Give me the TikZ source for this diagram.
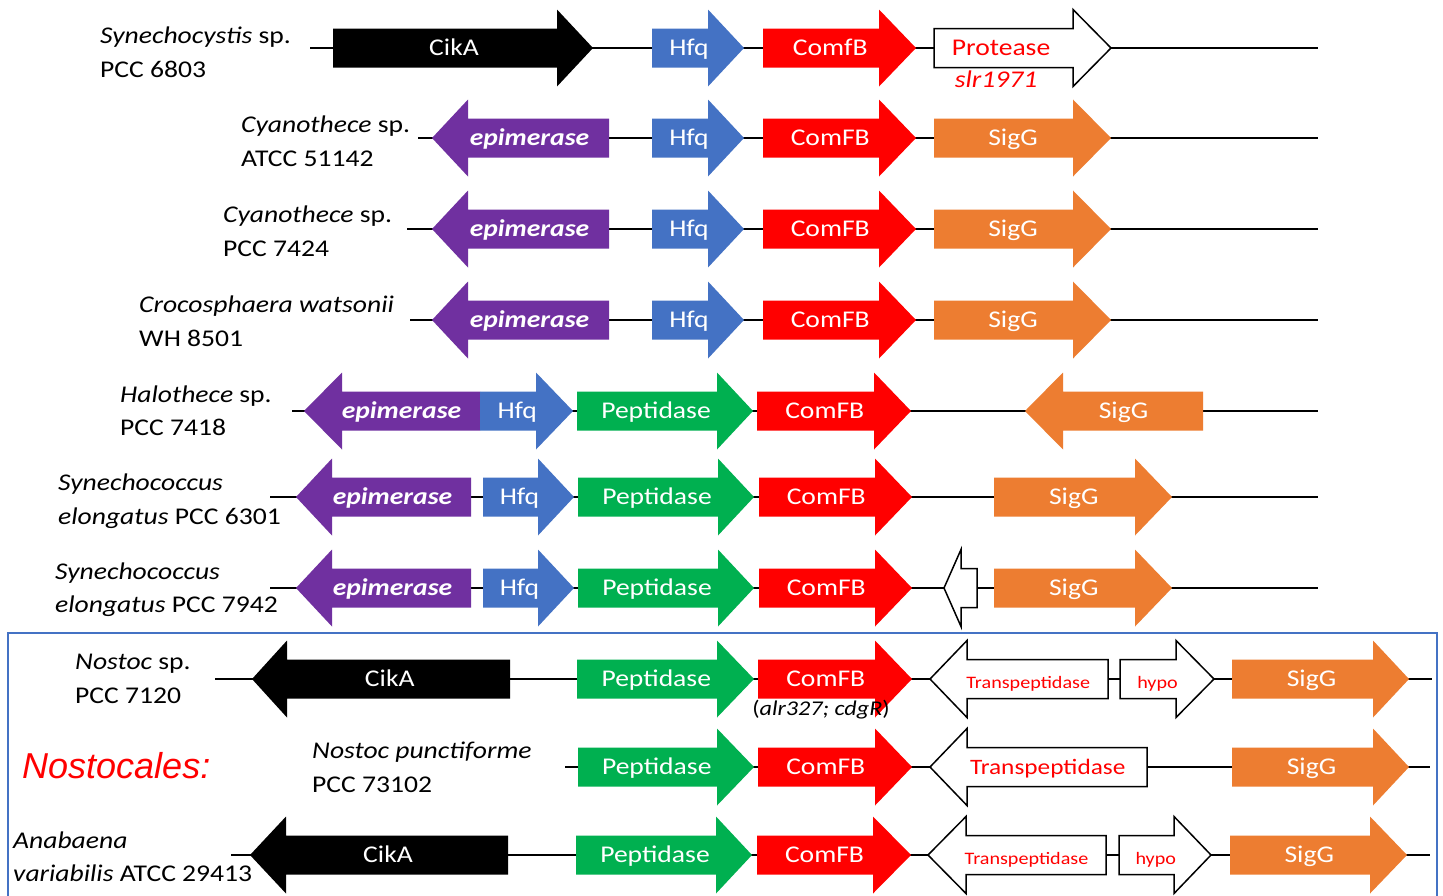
\documentclass[tikz,border=0pt]{standalone}
\usepackage{fontspec}
\setmainfont{Carlito}[FakeStretch=1.15]
\newfontfamily\arialfam{Liberation Sans}
\definecolor{gpurple}{HTML}{7030A0}
\definecolor{gblue}{HTML}{4472C4}
\definecolor{gred}{HTML}{FF0000}
\definecolor{ggreen}{HTML}{00B050}
\definecolor{gorange}{HTML}{ED7D31}
\definecolor{boxblue}{HTML}{4472C4}
\newcommand\gene[8]{%
  \pgfmathsetmacro\gx{(#2+#3)/2+(#4-#3)/4}%
  \path[#6] (#2,#5-19.5) -- (#3,#5-19.5) -- (#3,#5-38.5) -- (#4,#5) -- (#3,#5+38.5) -- (#3,#5+19.5) -- (#2,#5+19.5) -- cycle;
  \node[#7] (#1) at (\gx,#5+7.5) {#8};
}
\tikzset{
  backbone/.style={line width=2.6pt, black},
  blk/.style={fill=black},
  pur/.style={fill=gpurple},
  blu/.style={fill=gblue},
  rd/.style={fill=gred},
  grn/.style={fill=ggreen},
  org/.style={fill=gorange},
  wht/.style={fill=white, draw=black, line width=1.5pt, line join=miter},
  gtxt/.style={font=\fontsize{24}{28}\selectfont, text=white, anchor=base, inner sep=0},
  etxt/.style={gtxt, font=\fontsize{24}{28}\selectfont\bfseries\itshape},
  rtxt/.style={gtxt, text=gred},
  stxt/.style={gtxt, text=gred, font=\fontsize{17.5}{20}\selectfont, yshift=-1.5pt},
  mtxt/.style={gtxt, text=gred, font=\fontsize{22}{26}\selectfont},
  lab/.style={font=\fontsize{24}{30}\selectfont, anchor=base west, inner sep=0},
}
\begin{document}
\begin{tikzpicture}[x=1pt,y=-1pt]
\useasboundingbox (0,0) rectangle (1443,895);
\clip (0,0) rectangle (1443,895);
\fill[white] (0,0) rectangle (1443,895);
% ---------- backbones ----------
\coordinate (s1) at (310,48);  \coordinate (e1) at (1318,48);
\coordinate (s2) at (418,138); \coordinate (e2) at (1318,138);
\coordinate (s3) at (407,229); \coordinate (e3) at (1318,229);
\coordinate (s4) at (410,320); \coordinate (e4) at (1318,320);
\coordinate (s5) at (292,411); \coordinate (e5) at (1318,411);
\coordinate (s6) at (270,497); \coordinate (e6) at (1318,497);
\coordinate (s7) at (270,588); \coordinate (e7) at (1318,588);
\coordinate (s8) at (215,679); \coordinate (e8) at (1432,679);
\coordinate (s9) at (565,767); \coordinate (e9) at (1430,767);
\coordinate (s10) at (231,855); \coordinate (e10) at (1430,855);
\foreach \i in {1,...,10} { \draw[backbone] (s\i) -- (e\i); }
% ---------- row 1 ----------
\gene{r1a}{333}{557}{593}{48}{blk}{gtxt}{CikA}
\gene{r1b}{652}{708}{744}{48}{blu}{gtxt}{Hfq}
\gene{r1c}{763}{879}{916}{48}{rd}{gtxt}{ComfB}
\gene{r1d}{934}{1073}{1111}{48}{wht}{rtxt, xshift=-12pt}{Protease}
\node[lab, anchor=base, text=gred, font=\fontsize{24}{28}\selectfont\itshape] (slr) at (996,87) {slr1971};
% ---------- rows 2-4 ----------
\foreach \r/\yy in {2/138,3/229,4/320} {
  \gene{r\r a}{609}{468}{432}{\yy}{pur}{etxt}{epimerase}
  \gene{r\r b}{652}{708}{744}{\yy}{blu}{gtxt}{Hfq}
  \gene{r\r c}{763}{879}{916}{\yy}{rd}{gtxt}{ComFB}
  \gene{r\r d}{934}{1073}{1111}{\yy}{org}{gtxt}{SigG}
}
% ---------- row 5 ----------
\gene{r5a}{480}{342}{304}{411}{pur}{etxt}{epimerase}
\gene{r5b}{480}{536}{573}{411}{blu}{gtxt}{Hfq}
\gene{r5c}{577}{717}{753}{411}{grn}{gtxt}{Peptidase}
\gene{r5d}{757}{874}{911}{411}{rd}{gtxt}{ComFB}
\gene{r5e}{1203}{1063}{1025}{411}{org}{gtxt}{SigG}
% ---------- rows 6-7 ----------
\foreach \r/\yy in {6/497,7/588} {
  \gene{r\r a}{471}{332}{296}{\yy}{pur}{etxt}{epimerase}
  \gene{r\r b}{483}{538}{574}{\yy}{blu}{gtxt}{Hfq}
  \gene{r\r c}{578}{718}{754}{\yy}{grn}{gtxt}{Peptidase}
  \gene{r\r d}{759}{875}{912}{\yy}{rd}{gtxt}{ComFB}
  \gene{r\r e}{994}{1135}{1172}{\yy}{org}{gtxt}{SigG}
}
\gene{r7f}{977}{961}{944}{588}{wht}{gtxt}{}
% ---------- row 8 ----------
\gene{r8a}{510}{287}{252}{679}{blk}{gtxt}{CikA}
\gene{r8b}{577}{717}{754}{679}{grn}{gtxt}{Peptidase}
\gene{r8c}{758}{875}{912}{679}{rd}{gtxt}{ComFB}
\gene{r8d}{1108}{967}{930}{679}{wht}{stxt}{Transpeptidase}
\gene{r8e}{1120}{1176}{1214}{679}{wht}{stxt}{hypo}
\gene{r8f}{1232}{1373}{1409}{679}{org}{gtxt}{SigG}
\node[lab, anchor=base, font=\fontsize{21}{24}\selectfont] (alr) at (821,715) {(\textit{alr327; cdgR})};
% ---------- row 9 ----------
\gene{r9b}{578}{717}{754}{767}{grn}{gtxt}{Peptidase}
\gene{r9c}{758}{875}{912}{767}{rd}{gtxt}{ComFB}
\gene{r9d}{1147}{967}{930}{767}{wht}{mtxt}{Transpeptidase}
\gene{r9f}{1232}{1373}{1409}{767}{org}{gtxt}{SigG}
% ---------- row 10 ----------
\gene{r10a}{508}{286}{250}{855}{blk}{gtxt}{CikA}
\gene{r10b}{576}{716}{752}{855}{grn}{gtxt}{Peptidase}
\gene{r10c}{757}{873}{911}{855}{rd}{gtxt}{ComFB}
\gene{r10d}{1106}{966}{928}{855}{wht}{stxt}{Transpeptidase}
\gene{r10e}{1119}{1174}{1211}{855}{wht}{stxt}{hypo}
\gene{r10f}{1230}{1370}{1407}{855}{org}{gtxt}{SigG}
% ---------- species labels ----------
\node[lab] (l1a) at (100,43) {\textit{Synechocystis} sp.};
\node[lab] (l1b) at (100,77) {PCC 6803};
\node[lab] (l2a) at (241,132) {\textit{Cyanothece} sp.};
\node[lab] (l2b) at (241,166) {ATCC 51142};
\node[lab] (l3a) at (223,222) {\textit{Cyanothece} sp.};
\node[lab] (l3b) at (223,256) {PCC 7424};
\node[lab] (l4a) at (139,312) {\textit{Crocosphaera watsonii}};
\node[lab] (l4b) at (139,346) {WH 8501};
\node[lab] (l5a) at (120,402) {\textit{Halothece} sp.};
\node[lab] (l5b) at (120,435) {PCC 7418};
\node[lab] (l6a) at (58,490) {\textit{Synechococcus}};
\node[lab] (l6b) at (58,524) {\textit{elongatus} PCC 6301};
\node[lab] (l7a) at (55,579) {\textit{Synechococcus}};
\node[lab] (l7b) at (55,612) {\textit{elongatus} PCC 7942};
\node[lab] (l8a) at (75,669) {\textit{Nostoc} sp.};
\node[lab] (l8b) at (75,703) {PCC 7120};
\node[lab] (l9a) at (312,758) {\textit{Nostoc punctiforme}};
\node[lab] (l9b) at (312,792) {PCC 73102};
\node[lab] (l10a) at (13,848) {\textit{Anabaena}};
\node[lab] (l10b) at (13,881) {\textit{variabilis} ATCC 29413};
\node[lab, text=gred, font=\fontsize{36}{40}\selectfont\arialfam\itshape] (nost) at (22,778) {Nostocales:};
% ---------- box ----------
\draw[boxblue, line width=1.5pt] (8,633) rectangle (1437,910);
\end{tikzpicture}
\end{document}
